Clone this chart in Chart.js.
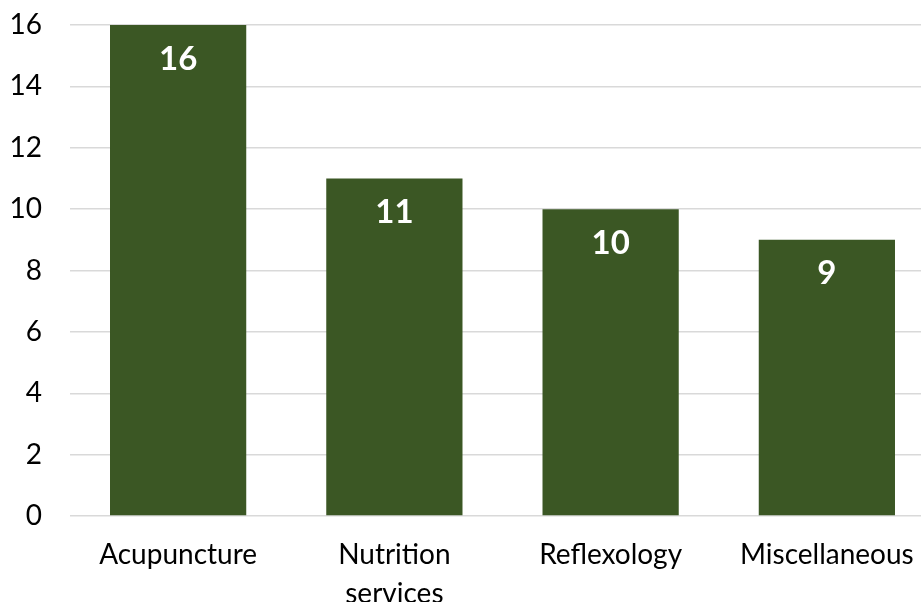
<!DOCTYPE html>
<html>
<head>
<meta charset="utf-8">
<script src="https://cdn.jsdelivr.net/npm/chart.js@4"></script>
<style>
  html, body { margin: 0; padding: 0; background: #fff; overflow: hidden; }
  #wrap { width: 935px; height: 602px; }
</style>
</head>
<body>
<div id="wrap"><canvas id="myChart" width="935" height="602"></canvas></div>
<script>
const categories = ["Acupuncture", ["Nutrition", "services"], "Reflexology", "Miscellaneous"];
const counts = [16, 11, 10, 9];
const yTicks = [0, 2, 4, 6, 8, 10, 12, 14, 16];

// white value labels drawn just under each bar top
const valueLabels = {
  id: "valueLabels",
  afterDatasetsDraw(chart) {
    const ctx = chart.ctx;
    const meta = chart.getDatasetMeta(0);
    ctx.save();
    ctx.fillStyle = "#ffffff";
    ctx.font = "bold 33px Lato";
    ctx.textAlign = "center";
    ctx.textBaseline = "middle";
    meta.data.forEach((bar, i) => {
      ctx.fillText(String(counts[i]), bar.x, bar.y + 34);
    });
    ctx.restore();
  },
};

const ctx = document.getElementById("myChart");
new Chart(ctx, {
  type: "bar",
  data: {
    labels: categories,
    datasets: [
      {
        data: counts,
        backgroundColor: "#3b5724",
        barPercentage: 0.63,
        categoryPercentage: 1,
      },
    ],
  },
  options: {
    responsive: false,
    animation: false,
    layout: { padding: { top: 25, left: 0, right: 0, bottom: 0 } },
    plugins: {
      legend: { display: false },
      tooltip: { enabled: false },
    },
    scales: {
      x: {
        grid: { display: false },
        border: { display: false },
        ticks: {
          color: "#000",
          font: { family: "Lato", size: 28, lineHeight: 1.4 },
          padding: 11,
          maxRotation: 0,
        },
        afterFit(scale) {
          scale.height = 86;
          scale.paddingLeft = 0;
          scale.paddingRight = 0;
        },
      },
      y: {
        min: 0,
        max: 16,
        afterBuildTicks(scale) {
          scale.ticks = yTicks.map((v) => ({ value: v }));
        },
        grid: { color: "#d9d9d9", lineWidth: 1.5, drawTicks: false },
        border: { display: false },
        ticks: {
          color: "#000",
          font: { family: "Lato", size: 28 },
          padding: 28,
        },
        afterFit(scale) {
          scale.width = 70;
          scale.paddingTop = 0;
          scale.paddingBottom = 0;
        },
      },
    },
  },
  plugins: [valueLabels],
});
</script>
</body>
</html>
